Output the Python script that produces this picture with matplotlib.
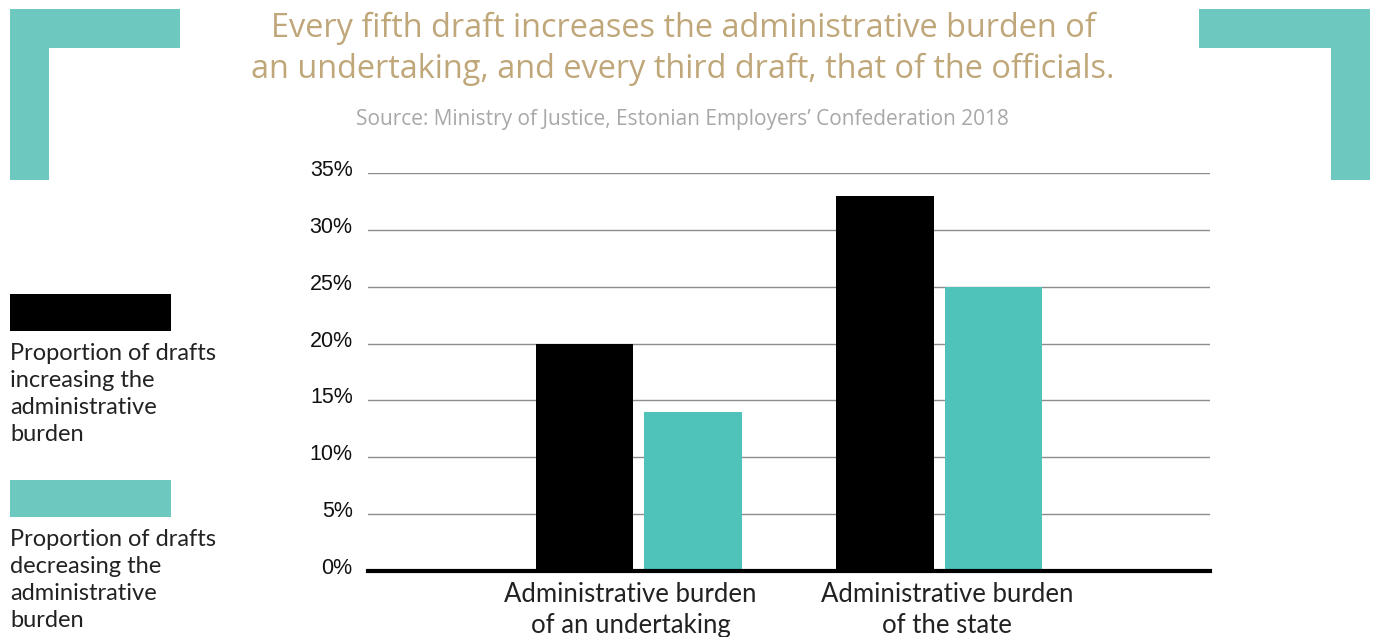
import matplotlib.pyplot as plt
from matplotlib.patches import Rectangle
from matplotlib.ticker import FuncFormatter
from matplotlib.transforms import ScaledTranslation
import numpy as np

# values (percent of drafts)
categories = ["Administrative burden\nof an undertaking", "Administrative burden\nof the state"]
increasing = [20, 33]
decreasing = [14, 25]
y_ticks = [0, 5, 10, 15, 20, 25, 30, 35]

TITLE = "Every fifth draft increases the administrative burden of\nan undertaking, and every third draft, that of the officials."
SOURCE = "Source: Ministry of Justice, Estonian Employers’ Confederation 2018"
LEGEND_LABELS = [
    "Proportion of drafts\nincreasing the\nadministrative\nburden",
    "Proportion of drafts\ndecreasing the\nadministrative\nburden",
]

W, H = 1378, 637
TEAL_FRAME = "#6DC8BF"
TEAL_BAR = "#4FC2BA"
GOLD = "#C0A77A"
GREY = "#A8A8A8"
GRID = "#8C8C8C"

fig = plt.figure(figsize=(W / 100, H / 100), dpi=100)
fig.patch.set_facecolor("white")


def px(x, y):
    # pixel coords from top-left -> figure fraction
    return x / W, 1 - y / H


def frame_rect(x0, y0, x1, y1, color):
    fx0, fy1 = px(x0, y0)
    fx1, fy0 = px(x1, y1)
    fig.patches.append(Rectangle((fx0, fy0), fx1 - fx0, fy1 - fy0,
                                 transform=fig.transFigure, color=color, lw=0))


# corner brackets
frame_rect(10, 9, 180, 48, TEAL_FRAME)
frame_rect(10, 9, 49, 180, TEAL_FRAME)
frame_rect(1199, 9, 1370, 48, TEAL_FRAME)
frame_rect(1331, 9, 1370, 180, TEAL_FRAME)

# title and source
fig.text(*px(683, 49), TITLE, ha="center", va="center", fontsize=23.4,
         color=GOLD, family="Open Sans", linespacing=1.33)
fig.text(*px(682, 119), SOURCE, ha="center", va="center", fontsize=15,
         color=GREY, family="Open Sans")

# bar chart
ax_l, ax_t = px(368, 173)
ax_r, ax_b = px(1210, 571)
ax = fig.add_axes([ax_l, ax_b, ax_r - ax_l, ax_t - ax_b])

x = np.arange(len(categories))
bw = 0.325
ax.bar(x - 0.18, increasing, width=bw, color="black", zorder=3)
ax.bar(x + 0.18, decreasing, width=bw, color=TEAL_BAR, zorder=3)

ax.set_xlim(-0.9, 1.9)
ax.set_ylim(0, 35)
ax.set_yticks(y_ticks)
ax.yaxis.set_major_formatter(FuncFormatter(lambda v, _: f"{v:.0f}%"))
ax.grid(axis="y", color=GRID, linewidth=1, zorder=0)
ax.set_axisbelow(True)
for side in ["top", "right", "left"]:
    ax.spines[side].set_visible(False)
ax.spines["bottom"].set_linewidth(3)
ax.spines["bottom"].set_color("black")
ax.spines["bottom"].set_zorder(4)
ax.tick_params(axis="y", length=0, pad=11, labelsize=15.5, labelcolor="#111111")
ax.tick_params(axis="x", length=0, pad=8, labelsize=18.5, labelcolor="#222222")
ax.set_xticks(x)
ax.set_xticklabels(categories, family="Lato", linespacing=1.3)

# y labels sit a little above their gridline
lift = ScaledTranslation(0, 5 / 100, fig.dpi_scale_trans)
for t in ax.yaxis.get_major_ticks():
    t.label1.set_family("Liberation Sans")
    t.label1.set_transform(t.label1.get_transform() + lift)

# nudge the category labels apart
for t, dx in zip(ax.xaxis.get_major_ticks(), [-8, 8]):
    t.label1.set_transform(t.label1.get_transform()
                           + ScaledTranslation(dx / 100, 0, fig.dpi_scale_trans))

# legend on the left
frame_rect(10, 294, 171, 331, "black")
frame_rect(10, 480, 171, 517, TEAL_FRAME)
fig.text(*px(10, 343), LEGEND_LABELS[0], ha="left", va="top", fontsize=17,
         color="#222222", family="Lato", linespacing=1.35)
fig.text(*px(10, 529), LEGEND_LABELS[1], ha="left", va="top", fontsize=17,
         color="#222222", family="Lato", linespacing=1.35)

fig.savefig("out.png", dpi=100, facecolor="white")
